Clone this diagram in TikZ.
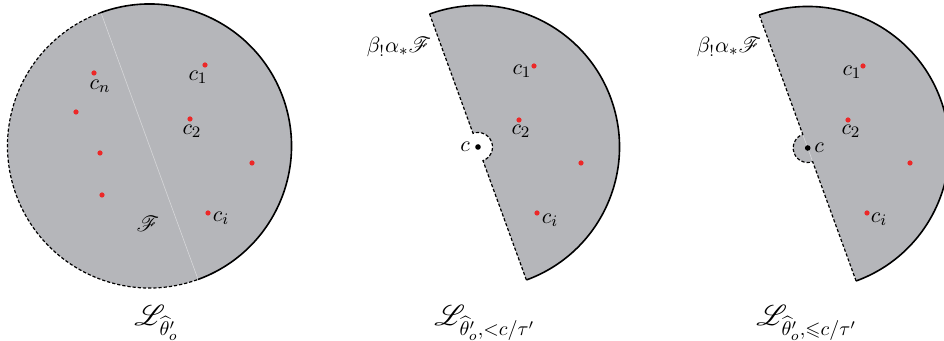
\documentclass[tikz,border=0pt]{standalone}
\usepackage{amsmath,amssymb,mathrsfs}
\usetikzlibrary{calc}
\definecolor{fillgray}{RGB}{181,182,186}
\definecolor{dotred}{RGB}{236,40,40}
\begin{document}
\begin{tikzpicture}[x=0.5pt,y=0.5pt,
  font=\fontsize{11}{13}\selectfont,
  region/.style={fill=fillgray},
  rim/.style={line width=0.8pt},
  cut/.style={line width=0.6pt, dash pattern=on 1.6pt off 1pt},
  seam/.style={white, line width=0.3pt, opacity=0.45},
  reddot/.style={circle, fill=dotred, inner sep=0pt, minimum size=2.6pt},
  blackdot/.style={circle, fill=black, inner sep=0pt, minimum size=2.8pt},
  lbl/.style={inner sep=0pt},
  biglbl/.style={inner sep=0pt, anchor=base west, font=\fontsize{14}{16}\selectfont}]
\useasboundingbox (0,0) rectangle (944,341);
\clip (0,0) rectangle (944,341);

% ---------- left disc ----------
\coordinate (o1) at (149.5,195);
\fill[region] (o1) circle[radius=142];
\draw[seam] ($(o1)+(110:142)$) -- ($(o1)+(290:142)$);
\draw[rim] ($(o1)+(110:142)$) arc[start angle=110,end angle=-70,radius=142];
\draw[cut] ($(o1)+(110:142)$) arc[start angle=110,end angle=290,radius=142];
\node[reddot] (l1) at (205,276) {};
\node[reddot] (l2) at (190,222) {};
\node[reddot] (l3) at (252,178) {};
\node[reddot] (li) at (208,128) {};
\node[reddot] (ln) at (94,268) {};
\node[reddot] (la) at (76,229) {};
\node[reddot] (lb) at (100,188) {};
\node[reddot] (lc) at (102,146) {};
\node[lbl] (tl1) at (198,264) {$c_1$};
\node[lbl] (tl2) at (192,210) {$c_2$};
\node[lbl] (tli) at (221,123) {$c_i$};
\node[lbl] (tln) at (100,255) {$c_n$};
\node[lbl] (tlF) at (148,117) {$\mathscr{F}$};

% ---------- middle half-disc with notch ----------
\coordinate (o2) at (478,194);
\fill[region] ($(o2)+(110:141.5)$) arc[start angle=110,end angle=-70,radius=141.5]
  -- ($(o2)+(-70:14.5)$) arc[start angle=-70,end angle=110,radius=14.5] -- cycle;
\draw[rim] ($(o2)+(110:141.5)$) arc[start angle=110,end angle=-70,radius=141.5];
\draw[cut] ($(o2)+(-70:141.5)$) -- ($(o2)+(-70:14.5)$)
  arc[start angle=-70,end angle=110,radius=14.5] -- ($(o2)+(110:141.5)$);
\node[blackdot] (mc) at (o2) {};
\node[reddot] (m1) at (534,275) {};
\node[reddot] (m2) at (519,221) {};
\node[reddot] (m3) at (581,178) {};
\node[reddot] (mi) at (537,128) {};
\node[lbl] (tm1) at (522,270) {$c_1$};
\node[lbl] (tm2) at (521,210) {$c_2$};
\node[lbl] (tmi) at (550,121) {$c_i$};
\node[lbl] (tmc) at (465,194) {$c$};
\node[lbl] (tmb) at (399,294) {$\beta_!\alpha_*\mathscr{F}$};

% ---------- right half-disc with bump ----------
\coordinate (o3) at (807.7,193);
\fill[region] ($(o3)+(110:141.5)$) arc[start angle=110,end angle=-70,radius=141.5]
  -- ($(o3)+(-70:14.5)$) arc[start angle=-70,end angle=-250,radius=14.5] -- cycle;
\draw[seam] ($(o3)+(110:141.5)$) -- ($(o3)+(-70:141.5)$);
\draw[rim] ($(o3)+(110:141.5)$) arc[start angle=110,end angle=-70,radius=141.5];
\draw[cut] ($(o3)+(-70:141.5)$) -- ($(o3)+(-70:14.5)$)
  arc[start angle=-70,end angle=-250,radius=14.5] -- ($(o3)+(110:141.5)$);
\node[blackdot] (rc) at (o3) {};
\node[reddot] (r1) at (863,275) {};
\node[reddot] (r2) at (848,221) {};
\node[reddot] (r3) at (910,178) {};
\node[reddot] (ri) at (867,128) {};
\node[lbl] (tr1) at (852,269) {$c_1$};
\node[lbl] (tr2) at (851,210) {$c_2$};
\node[lbl] (tri) at (879,122) {$c_i$};
\node[lbl] (trc) at (819,193) {$c$};
\node[lbl] (trb) at (729,294) {$\beta_!\alpha_*\mathscr{F}$};

% ---------- captions ----------
\node[biglbl] (cap1) at (134,15) {$\mathscr{L}_{\widehat{\theta}'_o}$};
\node[biglbl] (cap2) at (434,15) {$\mathscr{L}_{\widehat{\theta}'_o,<c/\tau'}$};
\node[biglbl] (cap3) at (756,15) {$\mathscr{L}_{\widehat{\theta}'_o,\leqslant c/\tau'}$};
\end{tikzpicture}
\end{document}
